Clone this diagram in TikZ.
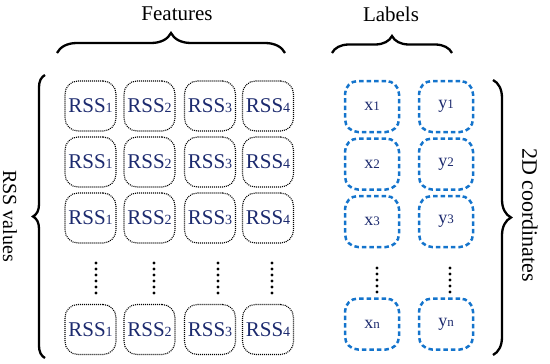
\documentclass[tikz,border=0pt]{standalone}
\usepackage{fontspec}
\setmainfont{Liberation Serif}
\usetikzlibrary{decorations.pathreplacing}
\definecolor{navy}{RGB}{28,42,110}
\definecolor{lblue}{RGB}{20,116,204}
\tikzset{
  rssbox/.style={draw=black, line width=1.1pt, dash pattern=on 1pt off 1pt,
    rounded corners=13pt, minimum width=51pt, minimum height=50pt, inner sep=0pt,
    text=navy, font=\fontsize{21}{21}\selectfont},
  lblbox/.style={draw=lblue, line width=2.5pt, dash pattern=on 4.5pt off 3pt,
    rounded corners=13pt, minimum width=54pt, minimum height=51pt, inner sep=0pt,
    text=navy, font=\fontsize{18}{18}\selectfont},
  bigbrace/.style={decorate, line width=2.3pt, decoration={brace, amplitude=#1}},
  title/.style={font=\fontsize{21}{21}\selectfont, inner sep=0pt},
  dotm/.style={circle, fill=black, inner sep=0pt, minimum size=3.4pt},
}
\newcommand{\rsssub}[1]{RSS{\fontsize{14}{14}\selectfont #1}}
\newcommand{\lsub}[2]{#1{\fontsize{13}{13}\selectfont #2}}
\begin{document}
\begin{tikzpicture}[x=1pt,y=-1pt]
\useasboundingbox (0,0) rectangle (550,364);
% RSS grid
\foreach \r/\y in {1/106,2/162,3/218,4/329.5}{
  \foreach \c/\x in {1/90.5,2/149.5,3/210,4/268}{
    \node[rssbox] (r\r c\c) at (\x,\y) {\rsssub{\c}};
  }
}
% label grid
\node[lblbox] (x1) at (372,106.5) {\lsub{x}{1}};
\node[lblbox] (y1) at (446,106.5) {\lsub{y}{1}};
\node[lblbox] (x2) at (372,164) {\lsub{x}{2}};
\node[lblbox] (y2) at (446,164) {\lsub{y}{2}};
\node[lblbox] (x3) at (372,221.5) {\lsub{x}{3}};
\node[lblbox] (y3) at (446,221.5) {\lsub{y}{3}};
\node[lblbox] (xn) at (372,324) {\lsub{x}{n}};
\node[lblbox] (yn) at (446,324) {\lsub{y}{n}};
% vertical dots
\foreach \x in {96,154,218,272}{
  \foreach \k in {0,...,5}{
    \node[dotm] at (\x,263+6*\k) {};
  }
}
\foreach \x in {377,450}{
  \foreach \k in {0,...,4}{
    \node[dotm] at (\x,268+6*\k) {};
  }
}
% braces
\coordinate (fa) at (57,53); \coordinate (fb) at (285,53);
\coordinate (la) at (332,53); \coordinate (lb) at (452,53);
\coordinate (ra) at (45,358); \coordinate (rb) at (45,75);
\coordinate (da) at (493,80); \coordinate (db) at (493,355);
\draw[bigbrace=20pt] (fa) -- (fb);
\draw[bigbrace=17pt] (la) -- (lb);
\draw[bigbrace=12pt] (ra) -- (rb);
\draw[bigbrace=18pt] (da) -- (db);
% titles
\node[title] (feat) at (177,14) {Features};
\node[title] (lab) at (391,14) {Labels};
\node[title, font=\fontsize{20}{20}\selectfont, rotate=-90] (rssv) at (10,216) {RSS values};
\node[title, font=\fontsize{22}{22}\selectfont, rotate=-90] (coord) at (530,215) {2D coordinates};
\end{tikzpicture}
\end{document}
